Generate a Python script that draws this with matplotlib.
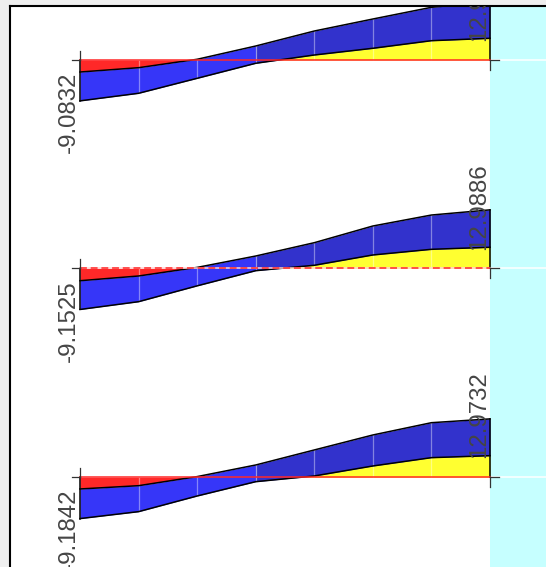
import numpy as np
import matplotlib
matplotlib.use('Agg')
import matplotlib.pyplot as plt

# stations along the beam (node index)
stations = [0, 1, 2, 3, 4, 5, 6, 7]

# envelope values per beam: max curve (A) and min curve (B)
beam1_max = [-2.67, -1.71, 0.16, 3.11, 6.44, 9.11, 11.71, 12.95]
beam1_min = [-9.0832, -7.40, -4.07, -0.73, 1.11, 2.60, 4.29, 4.82]
beam2_max = [-2.76, -1.71, 0.20, 2.73, 5.69, 9.40, 11.84, 12.9886]
beam2_min = [-9.1525, -7.42, -3.90, -0.53, 0.67, 2.96, 4.22, 4.67]
beam3_max = [-2.60, -1.87, 0.15, 2.73, 6.07, 9.40, 12.13, 12.9732]
beam3_min = [-9.1842, -7.64, -4.16, -0.98, 0.29, 2.51, 4.36, 4.80]

left_labels = ['-9.0832', '-9.1525', '-9.1842']
right_labels = ['12.9886', '12.9886', '12.9732']

RED = '#ff2828'
YELLOW = '#ffff30'
BLUE_L = '#3636f8'
BLUE_R = '#3232cc'
CYAN = '#c6ffff'
TXT = '#454545'

fig = plt.figure(figsize=(5.46, 5.67), dpi=100)
fig.patch.set_facecolor('#efefef')
ax = fig.add_axes([10 / 546, 0, 536 / 546, 561 / 567])
ax.set_facecolor('white')
ax.set_xlim(-1.195, 7.956)
ax.set_ylim(-112.67, 12.0)
ax.set_xticks([])
ax.set_yticks([])
for s in ('right', 'bottom'):
    ax.spines[s].set_visible(False)
for s in ('left', 'top'):
    ax.spines[s].set_linewidth(1.5)
    ax.spines[s].set_color('black')

ax.axvspan(stations[-1], 7.956, color=CYAN, zorder=0, lw=0)

x = np.array(stations, dtype=float)
offsets = [0.0, -46.29, -92.73]
beams = [(beam1_max, beam1_min), (beam2_max, beam2_min), (beam3_max, beam3_min)]

for k, ((amax, amin), off) in enumerate(zip(beams, offsets)):
    a = np.array(amax) + off
    b = np.array(amin) + off
    base = np.full_like(x, off)
    am = np.array(amax)
    bm = np.array(amin)

    # red: negative part of the max curve, yellow: positive part of the min curve
    ax.fill_between(x, a, base, where=am <= 0, interpolate=True, color=RED, lw=0, zorder=1)
    ax.fill_between(x, b, base, where=bm >= 0, interpolate=True, color=YELLOW, lw=0, zorder=1)
    # envelope band
    ax.fill_between(x[:4], a[:4], b[:4], color=BLUE_L, lw=0, zorder=2)
    ax.fill_between(x[3:], a[3:], b[3:], color=BLUE_R, lw=0, zorder=2)

    # station lines inside the diagram
    for i in range(1, len(x) - 1):
        lo = min(off, a[i], b[i])
        hi = max(off, a[i], b[i])
        ax.plot([x[i], x[i]], [lo, hi], color='white', alpha=0.4, lw=0.9, zorder=3)

    ax.plot(x, a, color='black', lw=1.1, zorder=4)
    ax.plot(x, b, color='black', lw=1.1, zorder=4)
    ax.plot([x[0], x[0]], [off, b[0]], color='black', lw=1.1, zorder=4)
    ax.plot([x[-1], x[-1]], [off, a[-1]], color='black', lw=1.1, zorder=4)

    # baseline
    if k == 1:
        ax.plot([x[0], x[-1]], [off, off], color='#ffd6d6', lw=1.1, zorder=5)
        ax.plot([x[0], x[-1]], [off, off], color=RED, lw=1.1, ls=(0, (4.5, 2.5)), zorder=5)
    else:
        ax.plot([x[0], x[-1]], [off, off], color=RED, lw=1.1, zorder=5)
    ax.plot([x[-1], 7.956], [off, off], color='white', lw=1.1, zorder=1)

    # support ticks
    ax.plot([x[0], x[0]], [off, off + 2.0], color='#333333', lw=0.9, zorder=5)
    ax.plot([x[0] - 0.14, x[0]], [off, off], color='#333333', lw=0.9, zorder=5)
    ax.plot([x[-1], x[-1]], [off, off - 2.2], color='#333333', lw=0.9, zorder=5)
    ax.plot([x[-1], x[-1] + 0.15], [off, off], color='#333333', lw=0.9, zorder=5)

    # value labels
    t1 = ax.text(x[0], a[0], left_labels[k], rotation=90, ha='right', va='top',
                 fontsize=17.3, family='Liberation Sans', color=TXT, zorder=6,
                 clip_on=True)
    t2 = ax.text(x[-1], b[-1] - 0.5, right_labels[k], rotation=90, ha='right', va='bottom',
                 fontsize=17.3, family='Liberation Sans', color=TXT, zorder=6,
                 clip_on=True)
    t1.set_clip_path(ax.patch)
    t2.set_clip_path(ax.patch)

fig.savefig('out.png', dpi=100, facecolor=fig.get_facecolor())
